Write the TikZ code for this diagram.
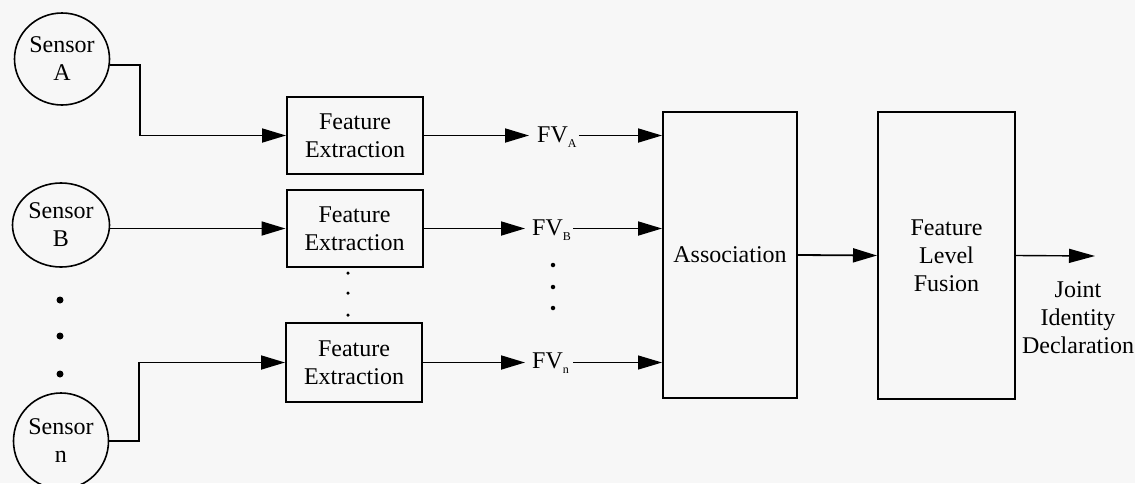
\documentclass[tikz,border=0pt]{standalone}
\usepackage{fontspec}
\setmainfont{Liberation Serif}
\usetikzlibrary{arrows.meta,shapes.geometric,calc}

\newcommand{\subtag}[1]{{\fontsize{12}{12}\selectfont\raisebox{-5pt}{#1}}}

\begin{document}
\begin{tikzpicture}[x=1pt,y=-1pt,
  every node/.style={font=\fontsize{24}{28}\selectfont, text=black},
  sensor/.style={draw, ellipse, line width=1.6pt, inner sep=0pt},
  block/.style={draw, rectangle, line width=2pt, align=center, inner sep=0pt},
  fvlabel/.style={inner sep=0pt, anchor=base west},
  conn/.style={line width=1.8pt, -{Triangle[length=24pt,width=14pt]}},
  bigdot/.style={circle, fill=black, inner sep=0pt, minimum size=7pt},
  smalldot/.style={circle, fill=black, inner sep=0pt, minimum size=3.5pt}]

  % page
  \fill[white!97!black] (0,0) rectangle (1135,483);
  \useasboundingbox (0,0) rectangle (1135,483);

  % sensors
  \node[sensor, minimum width=95pt, minimum height=92pt, align=center] (sA) at (62,59) {Sensor\\A};
  \node[sensor, minimum width=97pt, minimum height=84pt, align=center] (sB) at (61,225) {Sensor\\B};
  \node[sensor, minimum width=95pt, minimum height=96pt, align=center] (sN) at (61,441) {Sensor\\n};

  \node[bigdot] (d1) at (60,300) {};
  \node[bigdot] (d2) at (60,336) {};
  \node[bigdot] (d3) at (60,374) {};

  % feature extraction blocks
  \node[block, minimum width=136pt, minimum height=77pt] (fe1) at (355,135.5) {Feature\\Extraction};
  \node[block, minimum width=136pt, minimum height=77pt] (fe2) at (354.5,228.5) {Feature\\Extraction};
  \node[block, minimum width=136pt, minimum height=79pt] (fe3) at (354,362.5) {Feature\\Extraction};

  \node[smalldot] (e1) at (348,273) {};
  \node[smalldot] (e2) at (348,293) {};
  \node[smalldot] (e3) at (348,315) {};

  % feature vectors
  \node[fvlabel] (fvA) at (537,142) {FV\subtag{A}};
  \node[fvlabel] (fvB) at (532,235) {FV\subtag{B}};
  \node[fvlabel] (fvN) at (532,368) {FV\subtag{n}};

  \node[smalldot, minimum size=4.5pt] (v1) at (553,265) {};
  \node[smalldot, minimum size=4.5pt] (v2) at (553,287) {};
  \node[smalldot, minimum size=4.5pt] (v3) at (553,308) {};

  % association and fusion
  \node[block, minimum width=134pt, minimum height=286pt] (assoc) at (730,255) {Association};
  \node[block, minimum width=137pt, minimum height=287pt] (flf) at (946.5,255.5) {Feature\\Level\\Fusion};

  \coordinate (outEnd) at (1095,256);
  \node[align=center, inner sep=0pt] (jid) at (1078,318) {Joint\\Identity\\Declaration};

  % sensor to extraction
  \draw[conn] ([yshift=-6pt]sA.east) -- ++(30,0) |- (fe1.west);
  \draw[conn] (sB.east |- fe2.west) -- (fe2.west);
  \draw[conn] (sN.east) -- ++(30,0) |- (fe3.west);

  % extraction to feature vectors
  \draw[conn] (fe1.east) -- ([xshift=-8pt]fe1.east -| fvA.west);
  \draw[conn] (fe2.east) -- ([xshift=-7pt]fe2.east -| fvB.west);
  \draw[conn] (fe3.east) -- ([xshift=-7pt]fe3.east -| fvN.west);

  % feature vectors to association
  \draw[conn] ([xshift=2pt]fe1.east -| fvA.east) -- (fe1.east -| assoc.west);
  \draw[conn] ([xshift=2pt]fe2.east -| fvB.east) -- (fe2.east -| assoc.west);
  \draw[line width=1.2pt, -{Triangle[length=24pt,width=14pt]}] ([xshift=4pt]fe3.east -| fvN.east) -- (fe3.east -| assoc.west);

  % association to fusion to output
  \draw[conn] (assoc.east) -- (flf.west);
  \draw[line width=1.4pt, -{Triangle[length=26pt,width=14pt]}] (flf.east) -- (outEnd);
\end{tikzpicture}
\end{document}
